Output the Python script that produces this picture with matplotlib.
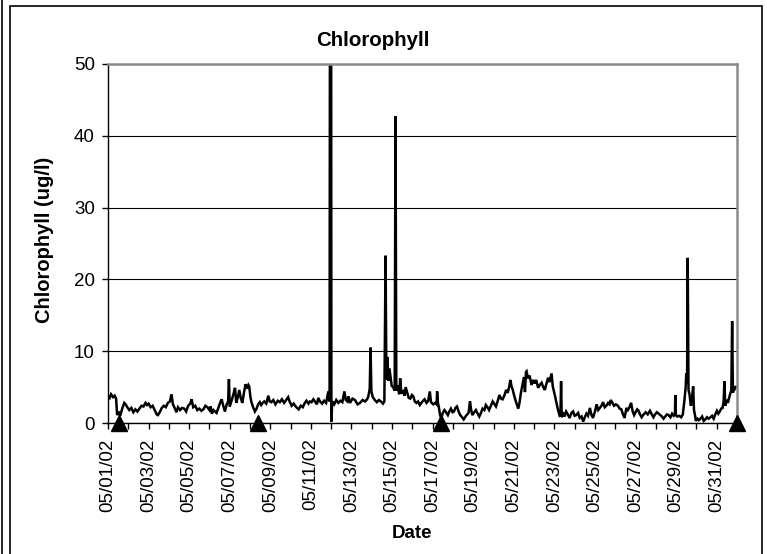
#!/usr/bin/env python3
"""Chlorophyll time series, May 2002 (Excel-style line chart)."""

from datetime import datetime, timedelta

import matplotlib

matplotlib.use("Agg")
import matplotlib.pyplot as plt
from matplotlib.lines import Line2D
from matplotlib.patches import Rectangle

plt.rcParams["font.family"] = ["Liberation Sans", "DejaVu Sans"]

START = datetime(2002, 5, 1)

# elapsed days since 05/01/02 00:00 and chlorophyll (ug/l)
days = [
    0.00, 0.08, 0.15, 0.25, 0.33, 0.40, 0.45, 0.52, 0.60, 0.70, 0.80, 0.87, 0.95,
    1.05, 1.15, 1.25, 1.35, 1.45, 1.55, 1.65, 1.75, 1.85, 1.92, 2.00, 2.10, 2.20,
    2.30, 2.40, 2.46, 2.55, 2.65, 2.75, 2.85, 2.95, 3.05, 3.13, 3.20, 3.30, 3.37,
    3.45, 3.55, 3.65, 3.76, 3.85, 3.95, 4.05, 4.12, 4.20, 4.30, 4.40, 4.50, 4.60,
    4.70, 4.80, 4.90, 5.00, 5.06, 5.12, 5.20, 5.35, 5.45, 5.55, 5.60, 5.68, 5.76,
    5.85, 5.92, 5.96, 6.00, 6.10, 6.20, 6.26, 6.32, 6.40, 6.47, 6.55, 6.62, 6.70,
    6.78, 6.85, 6.92, 6.96, 7.02, 7.07, 7.15, 7.24, 7.32, 7.40, 7.48, 7.55, 7.62,
    7.70, 7.80, 7.90, 7.97, 8.05, 8.15, 8.25, 8.37, 8.47, 8.57, 8.68, 8.78, 8.88,
    8.95, 9.05, 9.15, 9.28, 9.40, 9.50, 9.60, 9.70, 9.78, 9.88, 9.95, 10.03, 10.12,
    10.20, 10.30, 10.36, 10.45, 10.55, 10.65, 10.75, 10.86, 10.92, 10.95, 10.99,
    11.01, 11.05, 11.15, 11.25, 11.35, 11.45, 11.55, 11.65, 11.72, 11.80, 11.85,
    11.93, 12.05, 12.17, 12.30, 12.42, 12.55, 12.67, 12.77, 12.83, 12.90, 12.94,
    12.98, 13.05, 13.15, 13.25, 13.35, 13.45, 13.55, 13.62, 13.68, 13.72, 13.77,
    13.82, 13.87, 13.92, 13.98, 14.07, 14.13, 14.17, 14.21, 14.28, 14.35, 14.40,
    14.46, 14.55, 14.62, 14.67, 14.75, 14.82, 14.90, 14.98, 15.05, 15.12, 15.20,
    15.28, 15.37, 15.47, 15.60, 15.70, 15.78, 15.86, 15.92, 16.03, 16.12, 16.20,
    16.22, 16.26, 16.30, 16.36, 16.42, 16.50, 16.58, 16.66, 16.75, 16.82, 16.90,
    16.98, 17.05, 17.12, 17.20, 17.28, 17.36, 17.45, 17.53, 17.62, 17.70, 17.77,
    17.84, 17.90, 17.96, 18.05, 18.13, 18.22, 18.30, 18.38, 18.46, 18.55, 18.62,
    18.70, 18.78, 18.87, 18.96, 19.05, 19.12, 19.20, 19.29, 19.37, 19.45, 19.53,
    19.62, 19.70, 19.77, 19.83, 19.88, 19.95, 20.02, 20.10, 20.16, 20.22, 20.28,
    20.35, 20.42, 20.50, 20.55, 20.60, 20.63, 20.70, 20.78, 20.87, 20.95, 21.03,
    21.10, 21.20, 21.28, 21.37, 21.45, 21.53, 21.60, 21.69, 21.76, 21.86, 21.92,
    21.98, 22.05, 22.12, 22.18, 22.25, 22.30, 22.33, 22.36, 22.42, 22.50, 22.58,
    22.66, 22.75, 22.84, 22.92, 23.00, 23.08, 23.17, 23.25, 23.34, 23.42, 23.50,
    23.58, 23.66, 23.75, 23.82, 23.90, 24.00, 24.08, 24.16, 24.24, 24.32, 24.40,
    24.48, 24.56, 24.65, 24.72, 24.78, 24.86, 24.94, 25.03, 25.13, 25.22, 25.30,
    25.38, 25.46, 25.55, 25.62, 25.70, 25.78, 25.86, 25.93, 26.00, 26.08, 26.15,
    26.22, 26.30, 26.40, 26.50, 26.60, 26.71, 26.80, 26.88, 26.96, 27.05, 27.14,
    27.22, 27.30, 27.38, 27.46, 27.55, 27.63, 27.72, 27.80, 27.88, 27.94, 27.96,
    27.99, 28.05, 28.15, 28.25, 28.33, 28.41, 28.47, 28.50, 28.54, 28.57, 28.61,
    28.66, 28.70, 28.73, 28.78, 28.84, 28.88, 28.93, 28.97, 29.05, 29.12, 29.20,
    29.28, 29.36, 29.44, 29.52, 29.60, 29.69, 29.77, 29.85, 29.93, 30.01, 30.08,
    30.15, 30.22, 30.29, 30.34, 30.38, 30.42, 30.48, 30.55, 30.62, 30.68, 30.72,
    30.76, 30.80, 30.85, 30.90, 30.94,
]
chl = [
    3.8, 3.5, 4.0, 3.6, 3.8, 3.4, 1.1, 1.6, 1.0, 2.0, 2.8, 2.6, 2.2,
    1.8, 2.1, 1.5, 1.9, 1.6, 2.0, 2.4, 2.3, 2.8, 2.5, 2.7, 2.2, 2.4,
    1.8, 1.2, 1.1, 1.5, 2.1, 2.4, 2.2, 2.8, 3.0, 4.0, 2.6, 2.0, 1.5,
    2.2, 1.8, 2.1, 2.0, 1.6, 2.4, 2.7, 3.3, 2.2, 2.4, 1.8, 2.0, 1.7,
    1.9, 2.4, 2.2, 1.8, 2.3, 1.3, 1.8, 1.4, 2.2, 3.0, 3.3, 2.4, 1.6,
    2.6, 3.0, 6.1, 2.3, 3.2, 4.2, 4.9, 2.8, 3.6, 4.6, 3.4, 2.8, 4.2,
    5.4, 4.8, 5.3, 5.1, 3.6, 2.9, 2.2, 1.6, 2.0, 2.6, 2.9, 2.5, 2.8,
    3.0, 2.7, 3.8, 3.0, 2.9, 3.2, 2.6, 3.1, 2.9, 3.3, 2.8, 3.2, 3.6,
    3.0, 2.4, 2.7, 2.2, 1.9, 2.4, 2.2, 2.8, 3.1, 2.7, 3.0, 2.9, 3.3,
    3.0, 2.6, 3.5, 3.0, 2.7, 3.1, 2.8, 4.4, 3.0, 95.0, 95.0,
    0.2, 3.0, 2.6, 3.2, 2.8, 3.1, 2.9, 4.4, 3.2, 3.0, 3.7,
    2.8, 3.4, 3.2, 2.6, 2.8, 3.2, 3.0, 3.3, 3.7, 4.8, 10.5,
    4.4, 3.6, 3.2, 2.9, 3.2, 3.0, 2.7, 3.0, 23.3, 6.0, 9.2,
    5.9, 7.6, 6.5, 5.2, 4.9, 4.5, 42.7, 4.5, 5.2, 4.0, 6.2,
    4.1, 4.4, 3.8, 5.0, 4.2, 3.5, 3.4, 3.9, 3.7, 3.0, 2.8,
    3.0, 2.5, 2.9, 3.3, 2.8, 3.1, 4.4, 2.9, 2.6, 2.8, 2.6,
    4.4, 2.8, 2.3, 1.2, 0.6, 1.4, 1.8, 1.5, 1.1, 1.6, 2.0,
    1.5, 1.6, 2.1, 2.3, 1.6, 1.1, 0.8, 0.5, 0.9, 1.2, 1.4,
    3.0, 1.8, 1.1, 1.5, 1.8, 1.3, 0.9, 1.4, 2.0, 1.8, 2.5,
    2.2, 1.8, 2.4, 3.0, 2.6, 2.3, 3.0, 3.9, 3.4, 3.3, 3.8,
    4.6, 4.2, 5.0, 6.0, 5.2, 4.6, 3.8, 3.0, 2.5, 2.0, 2.8,
    4.2, 5.2, 6.4, 4.3, 7.1, 7.2, 6.2, 6.6, 5.3, 6.0, 5.5,
    6.0, 4.9, 5.3, 5.6, 5.0, 4.6, 5.4, 6.3, 5.7, 6.9, 5.1,
    4.4, 3.5, 2.6, 1.8, 1.1, 1.3, 5.8, 0.8, 1.5, 0.9, 1.6,
    1.2, 0.7, 1.4, 1.6, 1.0, 1.1, 1.4, 0.7, 0.9, 0.2, 0.8,
    1.3, 1.0, 2.1, 1.2, 0.7, 1.6, 2.6, 1.8, 2.1, 2.4, 2.9,
    2.2, 2.4, 2.8, 2.6, 3.2, 2.8, 2.4, 2.6, 2.4, 2.0, 1.9,
    1.2, 0.7, 2.1, 1.8, 2.2, 2.8, 1.6, 1.1, 1.5, 1.9, 1.7,
    1.2, 0.8, 1.2, 1.5, 1.2, 1.7, 1.2, 0.8, 1.2, 1.5, 1.3,
    1.1, 0.9, 0.6, 0.9, 1.2, 1.1, 0.8, 1.3, 1.0, 1.2, 3.9,
    1.1, 0.9, 1.0, 0.8, 1.2, 3.2, 5.0, 6.9, 5.5, 23.0, 4.6,
    4.0, 3.0, 2.4, 3.4, 5.1, 1.8, 1.1, 0.3, 0.6, 0.4, 0.6,
    0.9, 0.3, 0.5, 0.8, 0.6, 0.8, 1.0, 0.6, 1.2, 1.7, 1.3,
    1.6, 2.0, 2.1, 3.0, 5.8, 2.4, 3.2, 2.8, 3.6, 4.2, 4.5,
    14.2, 4.2, 5.1, 4.8, 5.0,
]

# sampling events shown as triangles on the axis
sample_days = [0.54, 7.37, 16.39, 31.0]
sample_vals = [0, 0, 0, 0]

y_ticks = [0, 10, 20, 30, 40, 50]


def main() -> None:
    fig = plt.figure(figsize=(7.67, 5.54), dpi=100)
    W, H = 767, 554
    ax = fig.add_axes([108 / W, (H - 423) / H, (737 - 108) / W, (423 - 64) / H])

    times = [START + timedelta(days=d) for d in days]
    ax.plot(times, chl, color="black", linewidth=1.8, solid_joinstyle="miter")

    s_times = [START + timedelta(days=d) for d in sample_days]
    ax.plot(s_times, sample_vals, linestyle="none", marker="^", color="black",
            markersize=11, clip_on=False, zorder=5)

    ax.set_xlim(START, START + timedelta(days=31))
    ax.set_ylim(0, 50)

    tick_days = [START + timedelta(days=i) for i in range(32)]
    tick_labels = [t.strftime("%m/%d/%y") if i % 2 == 0 and i < 31 else ""
                   for i, t in enumerate(tick_days)]
    ax.set_xticks(tick_days)
    ax.set_xticklabels(tick_labels, rotation=90, fontsize=13.5)
    ax.set_yticks(y_ticks)
    ax.set_yticklabels([str(v) for v in y_ticks], fontsize=13.5)
    ax.tick_params(axis="x", direction="out", length=4, width=1, pad=7)
    ax.tick_params(axis="y", direction="out", length=4.5, width=1, pad=5)

    ax.grid(axis="y", color="black", linewidth=0.8)
    ax.set_axisbelow(True)
    for side in ("top", "right"):
        ax.spines[side].set_color("#8c8c8c")
        ax.spines[side].set_linewidth(1.8)
    for side in ("left", "bottom"):
        ax.spines[side].set_color("black")
        ax.spines[side].set_linewidth(1.0)

    fig.text(373 / W, 1 - 40 / H, "Chlorophyll", fontsize=14.8,
             fontweight="bold", ha="center", va="center")
    fig.text(45 / W, 1 - 240 / H, "Chlorophyll (ug/l)", fontsize=14.5,
             fontweight="bold", rotation=90, ha="center", va="center")
    fig.text(412 / W, 1 - 533 / H, "Date", fontsize=13.5,
             fontweight="bold", ha="center", va="center")

    # chart frame and outer cell edge
    fig.add_artist(Rectangle((10 / W, -0.02), (762 - 10) / W, 1.02 - 6 / H,
                             transform=fig.transFigure, fill=False,
                             edgecolor="black", linewidth=1.2))
    fig.add_artist(Line2D([2 / W, 2 / W], [0, 1], transform=fig.transFigure,
                          color="black", linewidth=1.2))

    fig.savefig("out.png", dpi=100)


if __name__ == "__main__":
    main()
